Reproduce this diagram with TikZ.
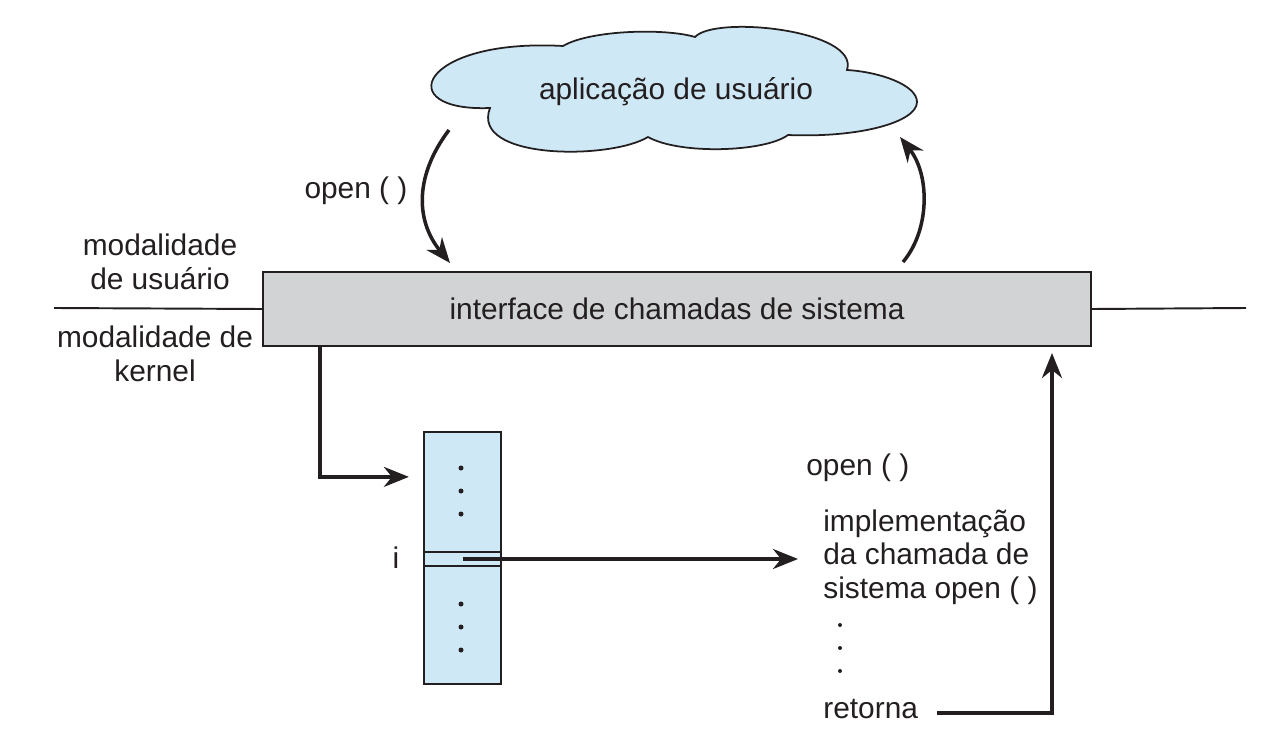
\documentclass[tikz,border=0pt]{standalone}
\usepackage{fontspec}
\setmainfont{Liberation Sans}
\usetikzlibrary{arrows.meta,calc}
\definecolor{cloudblue}{HTML}{CFE8F6}
\definecolor{boxgray}{HTML}{D1D3D4}
\definecolor{ink}{HTML}{231F20}

\begin{document}
\begin{tikzpicture}[x=0.02cm, y=-0.02cm, font=\fontsize{17}{19}\selectfont,
    lbl/.style={inner sep=0, text=ink},
    arr/.style={-{Stealth[length=0.5cm, width=0.4cm, inset=0.16cm]}, line width=2pt, ink},
    frame/.style={draw=ink, line width=1.3pt}]
    \useasboundingbox (0,0) rectangle (1282,740);

    % user side
    \draw[ink, line width=1pt, fill=cloudblue] (490,108)
        .. controls (390,112) and (420,38) .. (563,46)
        .. controls (590,30) and (665,28) .. (695,37)
        .. controls (715,15) and (860,30) .. (847,70)
        .. controls (880,72) and (917,85) .. (917,102)
        .. controls (917,122) and (860,138) .. (788,135)
        .. controls (765,152) and (680,155) .. (648,137)
        .. controls (610,160) and (470,160) .. cycle;
    \node[lbl] (app) at (676,92) {aplicação de usuário};
    \node[frame, fill=boxgray, minimum width=16.56cm, minimum height=1.48cm, text=ink] (box) at (677,309)
        {interface de chamadas de sistema};
    \node[lbl, anchor=base] (openl) at (356,198) {open ( )};
    \node[lbl, align=center] (umode) at (160,262) {modalidade\\de usuário};
    \node[lbl, align=center] (kmode) at (155,354) {modalidade de\\kernel};
    \coordinate (ml) at (54,308);
    \coordinate (mr) at (1246,308);
    \draw[ink, line width=1.1pt] (ml) -- (box.west) (box.east) -- (mr);

    % calls
    \coordinate (callA) at (449,130);
    \coordinate (callB) at (450,263);
    \coordinate (backA) at (903,262);
    \coordinate (backB) at (900,137);
    \draw[arr] (callA) .. controls (415,175) and (415,220) .. (callB);
    \draw[arr] (backA) .. controls (930,230) and (930,175) .. (backB);

    % kernel side
    \node[frame, fill=cloudblue, minimum width=1.54cm, minimum height=5.04cm] (tbl) at (462.5,558) {};
    \node[frame, minimum width=1.54cm, minimum height=0.28cm] (row) at (462.5,559) {};
    \foreach \y in {468,491,514,604,627,650}
        \fill[ink] (461,\y) circle (0.05cm);
    \node[lbl, anchor=base] (idx) at (396,568) {i};
    \node[lbl, anchor=base west] (fopen) at (806,475) {open ( )};
    \node[lbl, anchor=west, align=left] (impl) at (823,557) {implementação\\da chamada de\\sistema open ( )};
    \foreach \y in {625,648,671}
        \fill[ink] (840,\y) circle (0.04cm);
    \node[lbl, anchor=base west] (ret) at (823,718) {retorna};
    \coordinate (retup) at (1052,353);

    \draw[arr] ($(box.south west)+(58,0)$) |- ($(tbl.north west)+(-14,46)$);
    \draw[arr, shorten >=0.5cm] (row.center) -- (row.center -| impl.west);
    \draw[arr] ($(ret.base east)+(19,-5)$) -| (retup);
\end{tikzpicture}
\end{document}
